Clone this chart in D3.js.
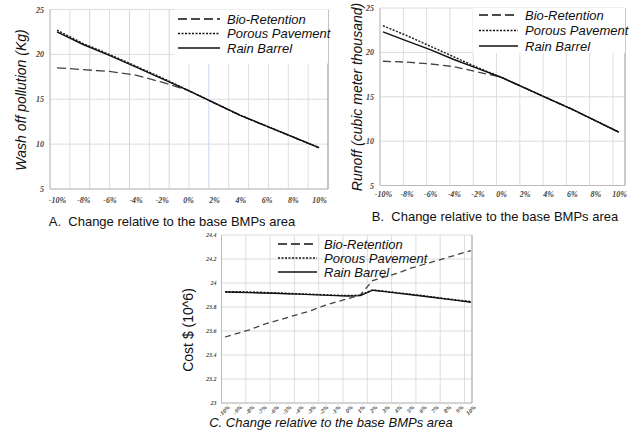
<!DOCTYPE html>
<html>
<head>
<meta charset="utf-8">
<script src="https://cdnjs.cloudflare.com/ajax/libs/d3/7.8.5/d3.min.js"></script>
<style>
  body { margin: 0; background: #fff; }
  svg { display: block; font-family: 'Liberation Sans', Arial, sans-serif; }
  .tick text { font-family: 'Liberation Serif', 'Times New Roman', serif; font-style: italic; font-weight: bold; fill: #444; }
  .axis-title { fill: #111; }
  .legend text { font-style: italic; fill: #111; }
</style>
</head>
<body>
<svg id="chart" width="634" height="439"></svg>
<script>
/* <DATA> */
var seriesNames = ['Bio-Retention', 'Porous Pavement', 'Rain Barrel'];

var pctLabels = ['-10%', '-8%', '-6%', '-4%', '-2%', '0%', '2%', '4%', '6%', '8%', '10%'];
var pctLabelsFine = ['-10%', '-9%', '-8%', '-7%', '-6%', '-5%', '-4%', '-3%', '-2%', '-1%', '0%',
  '1%', '2%', '3%', '4%', '5%', '6%', '7%', '8%', '9%', '10%'];

var washTicks = [5, 10, 15, 20, 25];
var washBio = [18.5, 18.3, 18.1, 17.7, 16.9, 16.0, 14.6, 13.2, 12.0, 10.8, 9.6];
var washPorous = [22.7, 21.2, 20.0, 18.7, 17.4, 16.0, 14.6, 13.2, 12.0, 10.8, 9.6];
var washRain = [22.5, 21.1, 19.9, 18.6, 17.3, 16.0, 14.6, 13.2, 12.0, 10.8, 9.6];

var runoffTicks = [5, 10, 15, 20, 25];
var runoffBio = [19.0, 18.9, 18.7, 18.4, 17.8, 17.2, 16.0, 14.8, 13.6, 12.3, 11.0];
var runoffPorous = [23.0, 21.9, 20.7, 19.5, 18.3, 17.2, 16.0, 14.8, 13.6, 12.3, 11.0];
var runoffRain = [22.3, 21.3, 20.3, 19.2, 18.2, 17.2, 16.0, 14.8, 13.6, 12.3, 11.0];

var costTicks = [23, 23.2, 23.4, 23.6, 23.8, 24, 24.2, 24.4];
var costBio = [23.55, 23.58, 23.61, 23.65, 23.68, 23.71, 23.74, 23.77, 23.81, 23.84, 23.87,
  23.90, 24.02, 24.05, 24.08, 24.12, 24.15, 24.18, 24.21, 24.24, 24.27];
var costPorous = [23.928, 23.927, 23.925, 23.922, 23.918, 23.914, 23.910, 23.906, 23.902, 23.898, 23.895,
  23.898, 23.942, 23.931, 23.919, 23.907, 23.895, 23.882, 23.869, 23.857, 23.845];
var costRain = [23.925, 23.923, 23.920, 23.917, 23.914, 23.911, 23.907, 23.903, 23.899, 23.895, 23.892,
  23.895, 23.940, 23.928, 23.916, 23.904, 23.892, 23.879, 23.866, 23.853, 23.840];
/* </DATA> */

var lineStyles = [
  { dash: '9,4', width: 1.3, color: '#444' },
  { dash: '2,1.5', width: 1.5, color: '#222' },
  { dash: null, width: 1.4, color: '#111' }
];

var svg = d3.select('#chart');

function drawPanel(p) {
  var g = svg.append('g');

  var x = d3.scalePoint().domain(p.labels).range(p.xRange);
  var y = d3.scaleLinear().domain(d3.extent(p.yTicks)).range([p.bottom, p.top]);

  // vertical grid is laid out on its own spacing, not on the ticks
  var grid = d3.range(p.gridCount + 1).map(function (i) { return p.left + i * p.gridStep; });
  g.selectAll('.vgrid').data(grid).enter().append('line')
    .attr('x1', function (d) { return d; }).attr('x2', function (d) { return d; })
    .attr('y1', p.top).attr('y2', p.bottom)
    .attr('stroke', function (d, i) { return p.blueLines.indexOf(i) >= 0 ? '#c6d6ef' : '#dedede'; })
    .attr('stroke-width', 1);

  g.selectAll('.hgrid').data(p.yTicks).enter().append('line')
    .attr('x1', p.left).attr('x2', p.right)
    .attr('y1', function (d) { return y(d); }).attr('y2', function (d) { return y(d); })
    .attr('stroke', '#dcdcdc');

  // frame
  g.append('line').attr('x1', p.left).attr('x2', p.left).attr('y1', p.top).attr('y2', p.bottom).attr('stroke', '#bbb');
  g.append('line').attr('x1', p.left).attr('x2', p.right).attr('y1', p.bottom).attr('y2', p.bottom).attr('stroke', '#bbb');
  g.append('line').attr('x1', p.right).attr('x2', p.right).attr('y1', p.top).attr('y2', p.bottom).attr('stroke', '#999');

  var yAxis = g.append('g').attr('transform', 'translate(' + p.left + ',0)')
    .call(d3.axisLeft(y).tickValues(p.yTicks).tickSize(0).tickPadding(p.yPad).tickFormat(d3.format('')));
  yAxis.select('.domain').remove();
  yAxis.selectAll('text').style('font-size', p.tickSize + 'px');

  var xAxis = g.append('g').attr('transform', 'translate(0,' + p.bottom + ')')
    .call(d3.axisBottom(x).tickSize(0).tickPadding(p.xPad));
  xAxis.select('.domain').remove();
  xAxis.selectAll('text').style('font-size', p.tickSize + 'px');
  if (p.rotate) {
    xAxis.selectAll('text')
      .attr('text-anchor', 'end')
      .attr('dy', '0.3em')
      .attr('transform', 'rotate(-45)');
  }

  // legend
  var lg = g.append('g').attr('class', 'legend');
  if (p.legend.box) {
    lg.append('rect').attr('x', p.legend.box[0]).attr('y', p.legend.box[1])
      .attr('width', p.legend.box[2]).attr('height', p.legend.box[3]).attr('fill', '#fff');
  }

  var line = d3.line()
    .x(function (d, i) { return x(p.labels[i]); })
    .y(function (d) { return y(d); });

  p.series.forEach(function (vals, k) {
    var st = lineStyles[k];
    g.append('path')
      .attr('d', line(vals))
      .attr('fill', 'none')
      .attr('stroke', st.color)
      .attr('stroke-width', st.width)
      .attr('stroke-dasharray', k === 0 && p.bioDash ? p.bioDash : st.dash);
  });

  seriesNames.forEach(function (name, k) {
    var st = lineStyles[k];
    var ry = p.legend.y + k * p.legend.gap;
    lg.append('line')
      .attr('x1', p.legend.x).attr('x2', p.legend.x + p.legend.len)
      .attr('y1', ry).attr('y2', ry)
      .attr('stroke', '#111').attr('stroke-width', 1.6)
      .attr('stroke-dasharray', st.dash);
    lg.append('text')
      .attr('x', p.legend.x + p.legend.len + 7).attr('y', ry)
      .attr('dy', '0.35em')
      .style('font-size', '13px')
      .text(name);
  });

  g.append('text').attr('class', 'axis-title')
    .attr('transform', 'translate(' + p.yTitle[0] + ',' + p.yTitle[1] + ') rotate(-90)')
    .attr('text-anchor', 'middle')
    .style('font-size', '14px')
    .style('font-style', p.yItalic ? 'italic' : 'normal')
    .text(p.yLabel);

  g.append('text').attr('class', 'axis-title')
    .attr('x', p.xTitle[0]).attr('y', p.xTitle[1])
    .attr('text-anchor', 'middle')
    .style('font-size', '13px')
    .style('font-style', p.xItalic ? 'italic' : 'normal')
    .attr('xml:space', 'preserve')
    .text(p.xLabel);
}

drawPanel({
  labels: pctLabels, yTicks: washTicks,
  series: [washBio, washPorous, washRain],
  left: 50, right: 328, top: 9.5, bottom: 189, xRange: [57, 319],
  gridStep: 19.86, gridCount: 14, blueLines: [2, 4, 6, 8],
  tickSize: 8, yPad: 6, xPad: 8,
  legend: { box: [174, 9.5, 154, 54], x: 178, y: 19, gap: 14.5, len: 42 },
  yLabel: 'Wash off pollution (Kg)', yTitle: [26, 100], yItalic: true,
  xLabel: 'A.  Change relative to the base BMPs area', xTitle: [172, 226], xItalic: false
});

drawPanel({
  labels: pctLabels, yTicks: runoffTicks,
  series: [runoffBio, runoffPorous, runoffRain],
  left: 380, right: 625, top: 8, bottom: 185.5, xRange: [383, 619],
  gridStep: 23.3, gridCount: 10, blueLines: [], bioDash: '8,4',
  tickSize: 8, yPad: 6, xPad: 6,
  legend: { box: [473, 8, 152, 45], x: 479, y: 15, gap: 15.5, len: 39 },
  yLabel: 'Runoff (cubic meter thousand)', yTitle: [362, 97], yItalic: true,
  xLabel: 'B.  Change relative to the base BMPs area', xTitle: [495, 221], xItalic: false
});

drawPanel({
  labels: pctLabelsFine, yTicks: costTicks,
  series: [costBio, costPorous, costRain],
  left: 221.5, right: 472, top: 235, bottom: 403, xRange: [225, 471],
  gridStep: 24.3, gridCount: 10, blueLines: [], rotate: true, bioDash: '6,4',
  tickSize: 6, yPad: 5, xPad: 5,
  legend: { box: null, x: 278, y: 244, gap: 14, len: 39 },
  yLabel: 'Cost $ (10^6)', yTitle: [193, 330], yItalic: false,
  xLabel: 'C. Change relative to the base BMPs area', xTitle: [331, 427], xItalic: true
});
</script>
</body>
</html>
